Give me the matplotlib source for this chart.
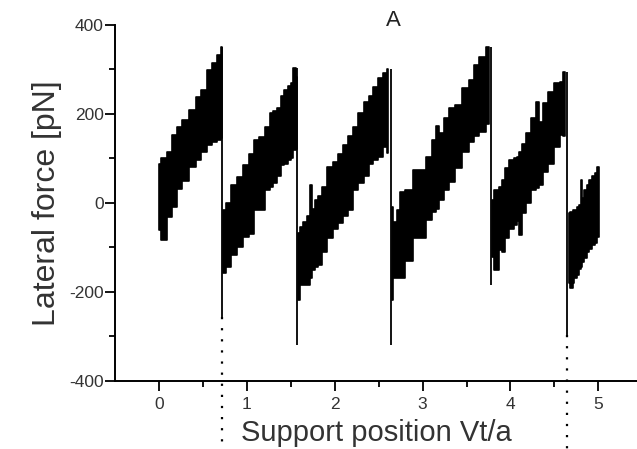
import matplotlib.pyplot as plt

plt.rcParams['font.family'] = ['Liberation Sans', 'DejaVu Sans']
plt.rcParams['axes.unicode_minus'] = False

# stick phases: support position and upper / lower edge of the noisy force band (pN)
seg1_x  = [0.0, 0.05, 0.125, 0.163, 0.24, 0.296, 0.39, 0.448, 0.505, 0.58, 0.638, 0.695, 0.718]
seg1_hi = [88, 100, 115, 152, 171, 186, 208, 238, 253, 298, 314, 332, 351]
seg1_lo = [-61, -84, -31, -10, 30, 48, 81, 97, 115, 130, 136, 141, 145]

seg2_x  = [0.733, 0.79, 0.846, 0.923, 0.998, 1.056, 1.113, 1.17, 1.245, 1.283, 1.321, 1.359, 1.416, 1.435, 1.492, 1.511, 1.549, 1.568]
seg2_hi = [-17, -1, 40, 58, 85, 110, 141, 148, 171, 201, 205, 212, 240, 253, 262, 268, 302, 283]
seg2_lo = [-159, -144, -118, -99, -76, -70, -16, -16, 29, 35, 44, 60, 85, 88, 96, 100, 118, 120]

seg3_x  = [1.587, 1.625, 1.663, 1.70, 1.731, 1.758, 1.796, 1.834, 1.871, 1.948, 2.024, 2.061, 2.118, 2.175, 2.232, 2.308, 2.365, 2.423, 2.46, 2.517, 2.574, 2.612]
seg3_hi = [-69, -55, -43, -30, 40, -15, 6, 15, 36, 81, 92, 110, 130, 150, 170, 201, 227, 240, 261, 280, 291, 300]
seg3_lo = [-219, -185, -185, -185, -170, -151, -145, -140, -110, -80, -60, -46, -30, -16, 29, 44, 60, 88, 95, 103, 126, 111]

seg4_x  = [2.65, 2.688, 2.726, 2.764, 2.839, 2.935, 3.01, 3.067, 3.143, 3.155, 3.22, 3.277, 3.333, 3.409, 3.485, 3.561, 3.618, 3.675, 3.758]
seg4_hi = [-9, -43, -16, 25, 29, 73, 73, 103, 141, 172, 156, 190, 212, 220, 257, 276, 309, 328, 351]
seg4_lo = [-219, -170, -170, -170, -130, -80, -80, -39, -20, -15, 5, 29, 47, 77, 115, 137, 150, 160, 178]

seg5_x  = [3.789, 3.846, 3.884, 3.921, 3.96, 4.017, 4.055, 4.092, 4.112, 4.15, 4.207, 4.263, 4.32, 4.339, 4.396, 4.453, 4.53, 4.587, 4.616, 4.624]
seg5_hi = [6, 29, 35, 51, 77, 96, 100, 103, 115, 133, 156, 190, 227, 182, 223, 249, 268, 272, 294, 290]
seg5_lo = [-121, -151, -106, -110, -80, -60, -50, -40, -73, -24, 0, 29, 32, 40, 70, 88, 126, 152, 150, 150]

seg6_x  = [4.662, 4.70, 4.719, 4.738, 4.776, 4.795, 4.803, 4.833, 4.852, 4.89, 4.909, 4.947, 4.966, 5.003]
seg6_hi = [-24, -20, -16, -16, -10, -5, 51, 10, 29, 40, 51, 60, 66, 81]
seg6_lo = [-181, -192, -180, -170, -162, -150, -145, -133, -125, -110, -105, -95, -90, -76]

# slip events: position, force before and lowest force after the jump
slip_x      = [0.718, 1.575, 2.638, 3.78, 4.64]
slip_top    = [351, 302, 300, 351, 294]
slip_bottom = [-256, -320, -320, -185, -297]

# dotted markers below the first and last slip
marker_x = [0.718, 4.64]
marker_top = [-256, -297]

segments = [
    (seg1_x, seg1_hi, seg1_lo),
    (seg2_x, seg2_hi, seg2_lo),
    (seg3_x, seg3_hi, seg3_lo),
    (seg4_x, seg4_hi, seg4_lo),
    (seg5_x, seg5_hi, seg5_lo),
    (seg6_x, seg6_hi, seg6_lo),
]

fig = plt.figure(figsize=(6.37, 4.49), dpi=100)
ax = fig.add_axes([0.1805, 0.152, 0.8195, 0.793])

for x, hi, lo in segments:
    ax.fill_between(x, lo, hi, step='mid', color='black', lw=1.2, edgecolor='black')

ax.vlines(slip_x, slip_bottom, slip_top, color='black', lw=1.3)

for x, top in zip(marker_x, marker_top):
    ax.plot([x, x], [top, -560], color='black', lw=1.6, linestyle=(0, (1, 4)), clip_on=False)

ax.set_xlim(-0.5, 5.44)
ax.set_ylim(-400, 400)
ax.set_xticks([0, 1, 2, 3, 4, 5])
ax.set_xticks([0.5, 1.5, 2.5, 3.5, 4.5], minor=True)
ax.set_yticks([-400, -200, 0, 200, 400])
ax.set_yticks([-300, -100, 100, 300], minor=True)

for side in ['top', 'right']:
    ax.spines[side].set_visible(False)
for side in ['left', 'bottom']:
    ax.spines[side].set_linewidth(1.4)

ax.tick_params(which='major', direction='out', length=7, width=1.3, labelsize=12.5, colors='black')
ax.tick_params(axis='x', which='major', pad=5)
ax.tick_params(axis='y', which='major', pad=1)
ax.tick_params(which='minor', direction='out', length=4, width=1.3)
for lab in ax.get_xticklabels() + ax.get_yticklabels():
    lab.set_color('#333333')

ax.set_xlabel('Support position Vt/a', fontsize=21, color='#333333', labelpad=5)
ax.set_ylabel('Lateral force [pN]', fontsize=23, color='#333333', labelpad=5)

fig.text(393 / 637, 1 - 20 / 449, 'A', fontsize=16, ha='center', va='center', color='#222222')

fig.savefig('out.png', dpi=100)
